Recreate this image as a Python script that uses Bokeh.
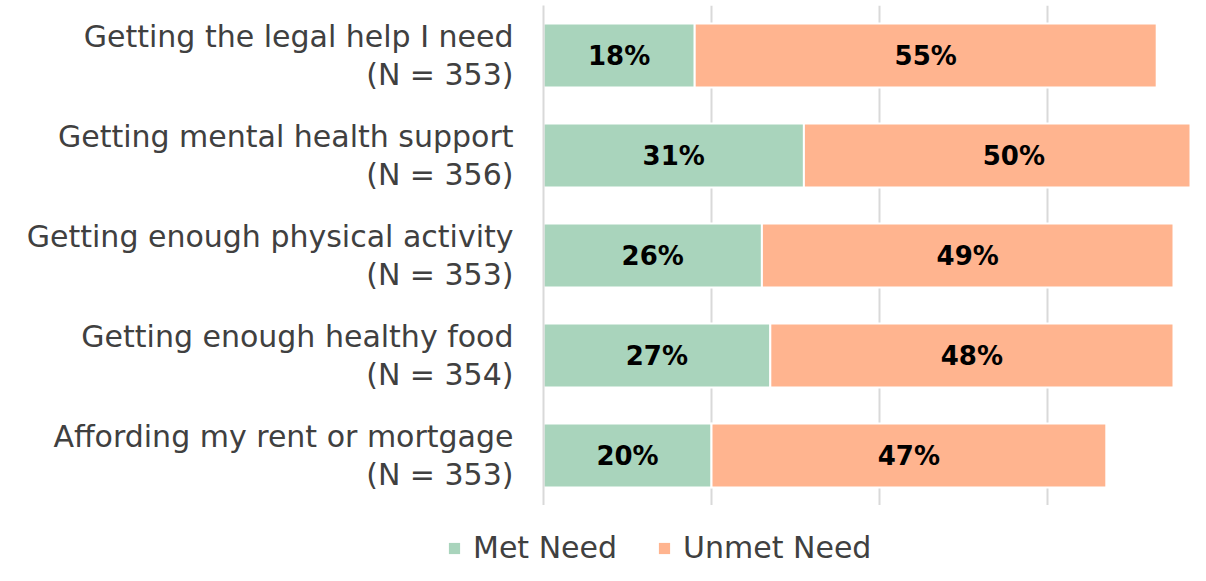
from bokeh.plotting import figure
from bokeh.models import ColumnDataSource, Range1d, FactorRange, Legend, LegendItem, FixedTicker
from bokeh.layouts import column
from bokeh.core.properties import value
from bokeh.embed import file_html
from bokeh.resources import INLINE

categories = [
    "Getting the legal help I need\n(N = 353)",
    "Getting mental health support\n(N = 356)",
    "Getting enough physical activity\n(N = 353)",
    "Getting enough healthy food\n(N = 354)",
    "Affording my rent or mortgage\n(N = 353)",
]
met = [18, 31, 26, 27, 20]
unmet = [55, 50, 49, 48, 47]
series = ["Met Need", "Unmet Need"]
colors = ["#a9d4bc", "#ffb48f"]

src = ColumnDataSource(dict(
    cat=categories,
    met=met,
    unmet=unmet,
    met_end=met,
    unmet_end=[m + u for m, u in zip(met, unmet)],
    met_mid=[m / 2 for m in met],
    unmet_mid=[m + u / 2 for m, u in zip(met, unmet)],
    met_lbl=[f"{m}%" for m in met],
    unmet_lbl=[f"{u}%" for u in unmet],
))

p = figure(
    y_range=FactorRange(*reversed(categories)),
    x_range=Range1d(0, 647 / 8.4),
    width=1190, height=505,
    output_backend="svg", toolbar_location=None,
    min_border_left=543, min_border_right=0, min_border_top=5, min_border_bottom=0,
)
p.frame_align = False
p.outline_line_color = None
p.xaxis.visible = False
p.ygrid.visible = False
p.xgrid.ticker = FixedTicker(ticks=[0, 20, 40, 60, 80])
p.xgrid.grid_line_color = "#d9d9d9"
p.xgrid.grid_line_width = 2

yax = p.yaxis[0]
yax.axis_line_color = "#d9d9d9"
yax.axis_line_width = 2
yax.major_tick_line_color = None
yax.minor_tick_line_color = None
yax.major_label_standoff = 24
yax.major_label_text_font = "DejaVu Sans"
yax.major_label_text_font_size = "30px"
yax.major_label_text_color = "#404040"
yax.major_label_text_line_height = 1.09

r1 = p.hbar(y="cat", left=0, right="met_end", height=0.64, source=src,
            fill_color=colors[0], line_color="white", line_width=2)
r2 = p.hbar(y="cat", left="met_end", right="unmet_end", height=0.64, source=src,
            fill_color=colors[1], line_color="white", line_width=2)

for xcol, tcol in (("met_mid", "met_lbl"), ("unmet_mid", "unmet_lbl")):
    p.text(x=xcol, y="cat", text=tcol, source=src, text_align="center",
           text_baseline="middle", text_font=value("DejaVu Sans"),
           text_font_style="bold", text_font_size="26px", text_color="black")

# legend strip below the chart (its own renderers sit outside its visible range)
lg = figure(width=1190, height=60, x_range=Range1d(-2, -1),
            y_range=FactorRange(*reversed(categories)),
            output_backend="svg", toolbar_location=None,
            min_border_left=0, min_border_right=0, min_border_top=0, min_border_bottom=0)
lg.frame_align = False
lg.outline_line_color = None
lg.axis.visible = False
lg.grid.visible = False
d1 = lg.hbar(y="cat", left=0, right="met_end", height=0.64, source=src,
             fill_color=colors[0], line_color=None)
d2 = lg.hbar(y="cat", left="met_end", right="unmet_end", height=0.64, source=src,
             fill_color=colors[1], line_color=None)

legend = Legend(
    items=[LegendItem(label=series[0], renderers=[d1]),
           LegendItem(label=series[1], renderers=[d2])],
    orientation="horizontal", location=(447, 0),
    border_line_color=None, background_fill_alpha=0,
    label_text_font="DejaVu Sans", label_text_font_size="30px",
    label_text_color="#404040", glyph_width=14, glyph_height=14,
    spacing=40, padding=0, margin=0, label_standoff=12,
)
lg.add_layout(legend)

layout = column(p, lg, spacing=0)
open("out.html", "w").write(file_html(layout, INLINE))
